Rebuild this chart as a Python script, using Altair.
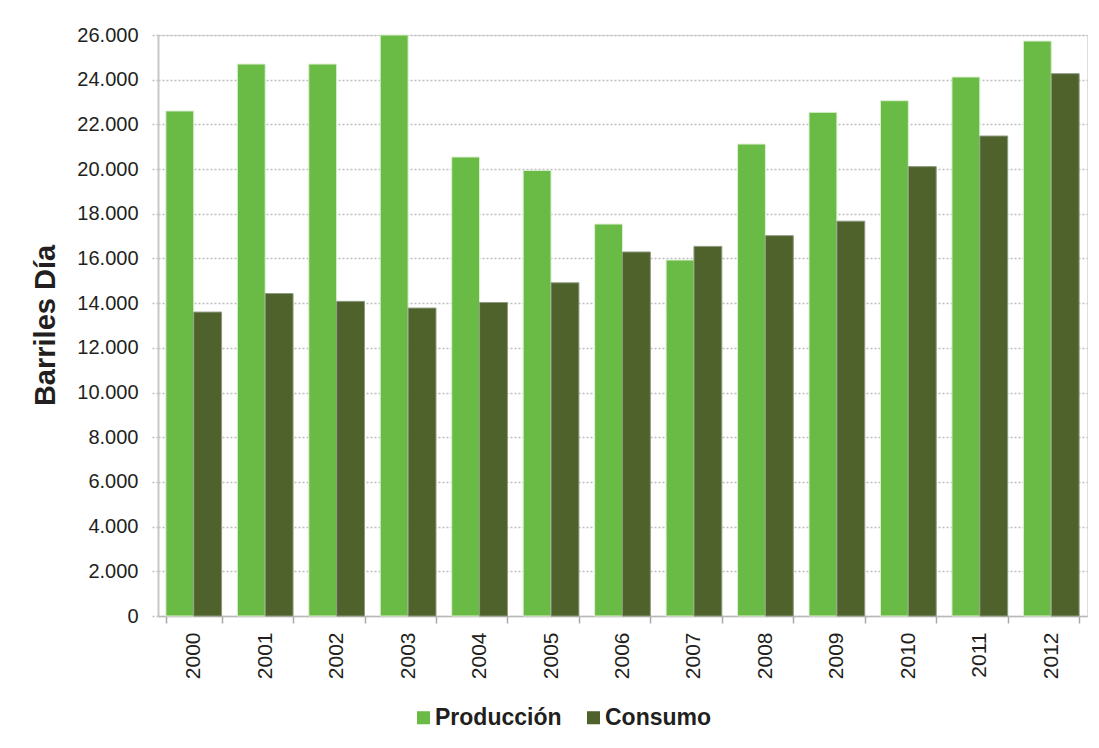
import altair as alt
import pandas as pd

years = ["2000", "2001", "2002", "2003", "2004", "2005", "2006",
         "2007", "2008", "2009", "2010", "2011", "2012"]
produccion = [22600, 24700, 24700, 26000, 20540, 19940, 17540,
              15930, 21120, 22540, 23060, 24120, 25730]
consumo = [13600, 14430, 14080, 13780, 14030, 14910, 16290,
           16540, 17020, 17670, 20110, 21480, 24270]
series = ["Producción", "Consumo"]
colors = ["#6abb45", "#4f622c"]
outlines = ["#dcefd2", "#8e9a80"]

rows = []
for y, p, c in zip(years, produccion, consumo):
    rows.append({"anio": y, "serie": series[0], "valor": p})
    rows.append({"anio": y, "serie": series[1], "valor": c})
df = pd.DataFrame(rows)

FONT = "Liberation Sans"

chart = alt.Chart(df).mark_bar(strokeWidth=1).encode(
    x=alt.X("anio:N", sort=years,
            scale=alt.Scale(paddingInner=0.22, paddingOuter=0.11),
            axis=alt.Axis(title=None, labelAngle=270, labelFontSize=21,
                          labelFont=FONT, labelColor="#231f20",
                          tickBand="extent", tickSize=7, tickColor="#a8a8a8",
                          tickWidth=1.5, domainColor="#b8b8b8", domainWidth=1.5,
                          labelPadding=9, grid=False)),
    xOffset=alt.XOffset("serie:N", sort=series,
                        scale=alt.Scale(domain=series, paddingInner=0, paddingOuter=0)),
    y=alt.Y("valor:Q",
            scale=alt.Scale(domain=[0, 26000], nice=False, clamp=True),
            axis=alt.Axis(title="Barriles Día", values=list(range(0, 26001, 2000)),
                          labelExpr="replace(format(datum.value, ','), ',', '.')",
                          labelFontSize=20, labelFont=FONT, labelColor="#231f20",
                          labelPadding=14, tickSize=6, tickDash=[2, 2],
                          tickColor="#bdbdbd", tickWidth=1.5,
                          domainColor="#c8c8c8", domainWidth=2,
                          gridColor="#bdbdbd", gridDash=[2, 2], gridWidth=1.5,
                          titleFont=FONT, titleFontSize=29, titleFontWeight="bold",
                          titleColor="#231f20", titleAngle=270,
                          titleBaseline="alphabetic", titleAlign="center",
                          titleX=-104, titleY=290)),
    color=alt.Color("serie:N", sort=series,
                    scale=alt.Scale(domain=series, range=colors),
                    legend=alt.Legend(title=None, orient="none", direction="horizontal",
                                      legendX=254, legendY=671, symbolType="square",
                                      symbolSize=170, symbolStrokeWidth=0,
                                      labelFont=FONT, labelFontSize=23,
                                      labelFontWeight="bold", labelColor="#231f20",
                                      labelOffset=0, columnPadding=20, padding=0)),
    stroke=alt.Stroke("serie:N", sort=series,
                      scale=alt.Scale(domain=series, range=outlines), legend=None),
).properties(
    width=929, height=581,
    autosize=alt.AutoSizeParams(type="none"),
    padding={"left": 150, "top": 27, "right": 2, "bottom": 118},
).configure_view(
    stroke="#c8c8c8", strokeWidth=2
).configure(background="white")

chart.save("out.html", embed_options={"renderer": "svg", "actions": False})
